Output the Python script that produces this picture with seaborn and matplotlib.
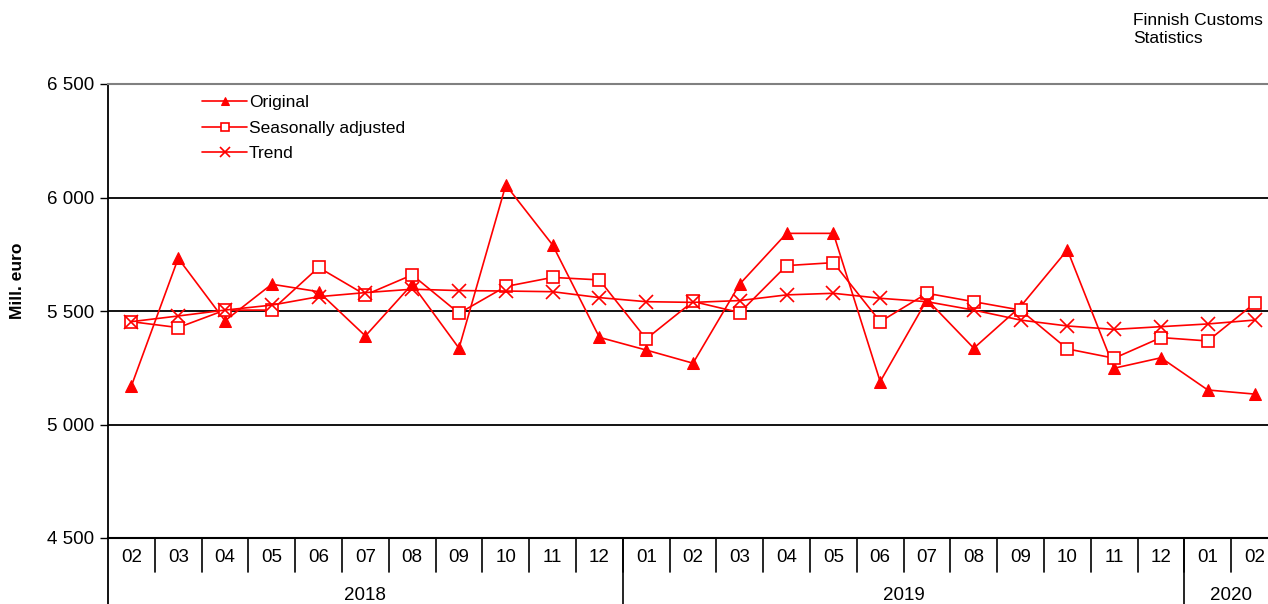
import pandas as pd
import numpy as np
import seaborn as sns
from matplotlib import pyplot as plt
from matplotlib import transforms

# Datos (mill. euro), 02/2018 - 02/2020
meses = ["02", "03", "04", "05", "06", "07", "08", "09", "10", "11", "12",
         "01", "02", "03", "04", "05", "06", "07", "08", "09", "10", "11", "12",
         "01", "02"]
anios = ["2018", "2019", "2020"]
meses_por_anio = [11, 12, 2]

original = [5170, 5732, 5457, 5618, 5585, 5390, 5618, 5336, 6055, 5791, 5384,
            5328, 5270, 5619, 5842, 5842, 5189, 5550, 5336, 5520, 5769, 5248, 5294,
            5152, 5134]
desestacionalizado = [5453, 5427, 5504, 5504, 5692, 5571, 5659, 5490, 5608, 5648, 5637,
                      5377, 5542, 5493, 5700, 5713, 5453, 5578, 5541, 5504, 5333, 5292, 5383,
                      5368, 5534]
tendencia = [5453, 5478, 5504, 5526, 5563, 5581, 5596, 5590, 5588, 5585, 5559,
             5541, 5538, 5546, 5571, 5578, 5556, 5541, 5504, 5460, 5434, 5419, 5431,
             5443, 5460]

sns.set_theme(style="white")
plt.rcParams['font.family'] = ['Liberation Sans', 'DejaVu Sans']
plt.rcParams['text.color'] = 'black'
plt.rcParams['ytick.color'] = 'black'

W, H = 1268, 604
fig = plt.figure(figsize=(W / 100, H / 100), dpi=100)
# el eje de categorías sigue algo más allá del borde derecho de la imagen
ax = fig.add_axes([108 / W, (H - 538) / H, 1170 / W, 454 / H])

pos = np.arange(len(meses))
rojo = "#ff0000"

sns.lineplot(x=pos, y=original, ax=ax, color=rojo, linewidth=1.2, marker="^",
             markersize=8, markeredgecolor=rojo, markerfacecolor=rojo, label="Original")
sns.lineplot(x=pos, y=desestacionalizado, ax=ax, color=rojo, linewidth=1.2, marker="s",
             markersize=8, markeredgecolor=rojo, markerfacecolor="white",
             markeredgewidth=1.2, label="Seasonally adjusted")
sns.lineplot(x=pos, y=tendencia, ax=ax, color=rojo, linewidth=1.2, marker="x",
             markersize=10, markeredgecolor=rojo, markeredgewidth=1.2, label="Trend")

# Ejes
ax.set_xlim(-0.5, len(meses) - 0.5)
ax.set_ylim(4500, 6500)
yt = [4500, 5000, 5500, 6000, 6500]
ax.set_yticks(yt)
ax.set_yticklabels([f"{v:,}".replace(",", " ") for v in yt], fontsize=13.5)
ax.tick_params(axis="y", left=True, length=6, width=1, color="black", pad=4)
for v in [5000, 5500, 6000]:
    ax.axhline(v, color="black", linewidth=1.3, zorder=1)

ax.spines["right"].set_visible(False)
ax.spines["top"].set_color("#808080")
ax.spines["top"].set_linewidth(1.5)
ax.spines["left"].set_color("black")
ax.spines["left"].set_linewidth(1.3)
ax.spines["bottom"].set_color("black")
ax.spines["bottom"].set_linewidth(1.5)

# Eje de categorías: meses y años
ax.set_xticks([])
ax.set_xlabel("")
trans = transforms.blended_transform_factory(ax.transData, ax.transAxes)
px = 1 / 454  # un píxel en coordenadas del eje
for i, m in enumerate(meses):
    ax.text(i, -20 * px, m, transform=trans, ha="center", va="center", fontsize=13.5)
for i in range(len(meses) - 1):
    ax.plot([i + 0.5, i + 0.5], [0, -34 * px], transform=trans, color="black",
            linewidth=1.2, clip_on=False)
inicio = -0.5
ax.plot([inicio, inicio], [0, -66 * px], transform=trans, color="black",
        linewidth=1.3, clip_on=False)
for anio, n in zip(anios, meses_por_anio):
    fin = inicio + n
    ax.text((inicio + fin) / 2, -57 * px, anio, transform=trans, ha="center",
            va="center", fontsize=13.5)
    ax.plot([fin, fin], [0, -66 * px], transform=trans, color="black",
            linewidth=1.2, clip_on=False)
    inicio = fin

# Leyenda
ax.legend(loc="upper left", bbox_to_anchor=((195 - 108) / 1170, (538 - 88) / 454),
          frameon=False, fontsize=12.5, handlelength=2.6, labelspacing=0.6,
          handletextpad=0.1, borderaxespad=0, markerscale=0.7)

# Textos
fig.text(18 / W, 1 - 281 / H, "Mill. euro", rotation=90, ha="center", va="center",
         fontsize=12.5, fontweight="bold")
fig.text(1133 / W, 1 - 13 / H, "Finnish Customs\nStatistics", ha="left", va="top",
         fontsize=12.5, linespacing=1.25)

fig.savefig("out.png", dpi=100)
